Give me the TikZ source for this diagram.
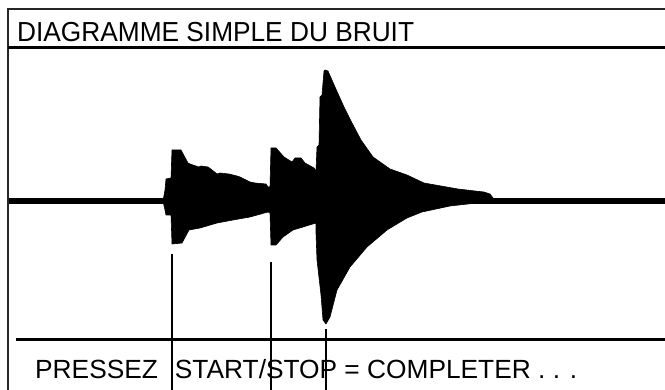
\documentclass[tikz,border=0pt]{standalone}
\usepackage{fontspec}
\setmainfont{Liberation Sans}
\begin{document}
\begin{tikzpicture}[x=1pt,y=-1pt,
  rule/.style={line width=3pt,black},
  frameline/.style={line width=2.2pt,black!85},
  marker/.style={line width=1.8pt,black},
  label/.style={inner sep=0pt,anchor=base west},
  wave/.style={fill=black,draw=black,line width=0.6pt,line join=round}]
\useasboundingbox (0,0) rectangle (665,390);

% outer frame (open on the right and at the bottom)
\draw[frameline] (7.8,390) -- (7.8,9) -- (665,9);

% header
\node[label] (title) at (17,42)
  {\fontsize{27.5}{30}\selectfont\scalebox{0.955}[1]{DIAGRAMME SIMPLE DU BRUIT}};
\draw[rule] (8,48) -- (665,48);

% time axis
\draw[line width=5.5pt] (9,201) -- (665,201);

% noise envelope
\fill[wave]
  (163,201) -- (165,190) -- (166,179) -- (171,178) -- (172,150) -- (181,150)
  -- (188,163) -- (190,164) -- (199,167) -- (201,166) -- (208,167) -- (212,170)
  -- (217,174) -- (220,173) -- (229,174) -- (237,176) -- (240,177) -- (246,180)
  -- (250,182) -- (255,183) -- (266,184) -- (268,187) -- (270,187)
  -- (271,148) -- (276,148) -- (284,157) -- (292,162) -- (295,158) -- (301,158)
  -- (305,163) -- (314,168) -- (316,171)
  -- (317,147) -- (319,145) -- (320,97) -- (322,95) -- (324,71) -- (325,70)
  -- (328,71) -- (335,87) -- (344,107) -- (352,123) -- (361,140) -- (373,157)
  -- (390,169) -- (407,175) -- (424,183) -- (441,186) -- (458,189) -- (475,191)
  -- (484,192) -- (490,194) -- (493,198) -- (493,201)
  -- (477,203) -- (450,206) -- (422,212) -- (407,218) -- (387,230) -- (367,247)
  -- (350,267) -- (337,290) -- (330,317) -- (326,324) -- (323,320) -- (321,295)
  -- (317,260) -- (316,233) -- (316,223)
  -- (303,227) -- (293,230) -- (283,237) -- (276,245) -- (271,245) -- (270,213)
  -- (268,212) -- (250,217) -- (233,220) -- (217,223) -- (200,228) -- (189,230)
  -- (182,243) -- (172,244) -- (171,215) -- (166,215) -- (165,210) -- cycle;

% footer
\draw[rule] (16,340) -- (665,340);
\node[label] (prompt) at (35,379)
  {\fontsize{26.3}{30}\selectfont PRESSEZ\hspace*{17pt}START/STOP = COMPLETER . . .};

% event markers
\coordinate (m1top) at (172,254); \coordinate (m1end) at (172,390);
\coordinate (m2top) at (271,262); \coordinate (m2end) at (271,390);
\coordinate (m3top) at (326,329); \coordinate (m3end) at (326,390);
\draw[marker] (m1top) -- (m1end);
\draw[marker] (m2top) -- (m2end);
\draw[marker] (m3top) -- (m3end);
\end{tikzpicture}
\end{document}
